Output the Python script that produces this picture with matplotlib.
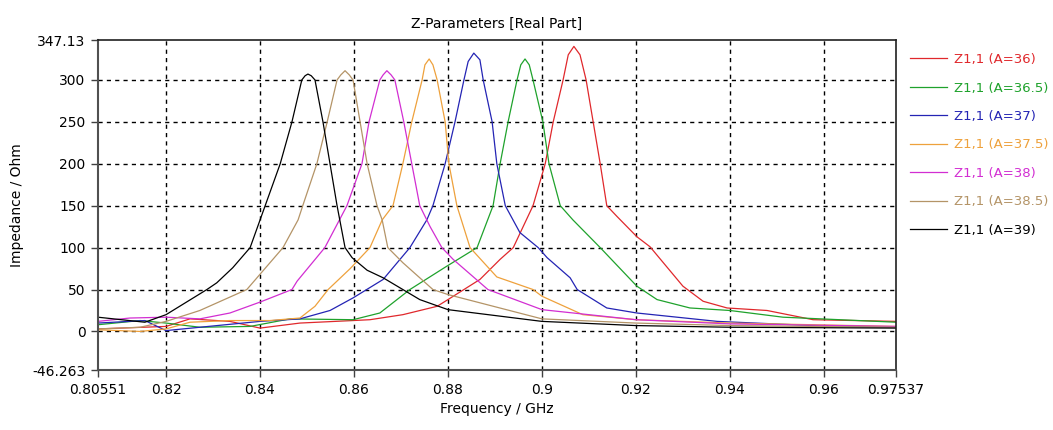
import matplotlib
matplotlib.use("Agg")
from matplotlib import pyplot as plt

# frequency (GHz) / real part of Z1,1 (Ohm)
f_a36 = [0.8055, 0.8200, 0.8251, 0.8336, 0.8400, 0.8485, 0.8598, 0.8634, 0.8704, 0.8777, 0.8800,
         0.8868, 0.8911, 0.8939, 0.8981, 0.9007, 0.9024, 0.9045, 0.9056, 0.9068, 0.9081, 0.9094,
         0.9109, 0.9124, 0.9138, 0.9160, 0.9202, 0.9230, 0.9300, 0.9343, 0.9394, 0.9479, 0.9577,
         0.9754]
z_a36 = [3, 6, 15, 12, 4, 10, 13, 14, 20, 30, 38,
         62, 86, 100, 150, 200, 250, 300, 330, 340, 330, 300,
         250, 200, 150, 137, 113, 101, 54, 36, 28, 25, 14,
         12]

f_a36_5 = [0.8055, 0.8145, 0.8200, 0.8272, 0.8379, 0.8464, 0.8598, 0.8655, 0.8719, 0.8798, 0.8862,
           0.8896, 0.8911, 0.8928, 0.8947, 0.8955, 0.8964, 0.8973, 0.8981, 0.9002, 0.9015, 0.9039,
           0.9066, 0.9124, 0.9202, 0.9245, 0.9315, 0.9400, 0.9513, 0.9754]
z_a36_5 = [8, 13, 10, 5, 6, 15, 14, 22, 50, 78, 100,
           150, 200, 250, 300, 318, 325, 318, 300, 250, 200, 150,
           133, 100, 54, 38, 28, 25, 17, 11]

f_a37 = [0.8055, 0.8155, 0.8200, 0.8272, 0.8400, 0.8485, 0.8549, 0.8598, 0.8662, 0.8719, 0.8755,
         0.8768, 0.8794, 0.8815, 0.8834, 0.8843, 0.8855, 0.8868, 0.8875, 0.8894, 0.8904, 0.8922,
         0.8953, 0.8992, 0.9011, 0.9060, 0.9075, 0.9138, 0.9202, 0.9373, 0.9577, 0.9754]
z_a37 = [10, 13, 1, 5, 12, 15, 25, 40, 62, 100, 133,
         150, 200, 250, 300, 322, 332, 324, 300, 250, 200, 150,
         118, 100, 88, 64, 50, 28, 22, 12, 7, 5]

f_a37_5 = [0.8055, 0.8145, 0.8200, 0.8251, 0.8336, 0.8421, 0.8485, 0.8517, 0.8545, 0.8592, 0.8634,
           0.8660, 0.8683, 0.8704, 0.8723, 0.8745, 0.8751, 0.8760, 0.8768, 0.8777, 0.8794, 0.8802,
           0.8819, 0.8847, 0.8904, 0.8981, 0.9000, 0.9087, 0.9200, 0.9400, 0.9754]
z_a37_5 = [2, 0, 3, 11, 13, 13, 16, 30, 50, 75, 100,
           133, 150, 200, 250, 300, 318, 325, 318, 300, 250, 200,
           150, 100, 65, 50, 42, 20, 14, 10, 6]

f_a38 = [0.8055, 0.8123, 0.8200, 0.8272, 0.8336, 0.8400, 0.8468, 0.8479, 0.8538, 0.8585, 0.8617,
         0.8632, 0.8655, 0.8662, 0.8670, 0.8679, 0.8687, 0.8706, 0.8723, 0.8740, 0.8762, 0.8787,
         0.8811, 0.8885, 0.9000, 0.9200, 0.9400, 0.9754]
z_a38 = [12, 16, 17, 15, 22, 35, 50, 60, 100, 150, 200,
         250, 300, 306, 311, 306, 300, 250, 200, 150, 125, 100,
         86, 50, 26, 14, 9, 6]

f_a38_5 = [0.8055, 0.8145, 0.8200, 0.8272, 0.8372, 0.8449, 0.8481, 0.8491, 0.8521, 0.8543, 0.8564,
           0.8572, 0.8581, 0.8590, 0.8598, 0.8613, 0.8628, 0.8649, 0.8660, 0.8672, 0.8704, 0.8768,
           0.8800, 0.9000, 0.9200, 0.9400, 0.9754]
z_a38_5 = [3, 5, 12, 25, 50, 100, 133, 150, 200, 250, 300,
           306, 311, 306, 300, 250, 200, 150, 133, 100, 82, 50,
           44, 15, 10, 7, 5]

f_a39 = [0.8055, 0.8155, 0.8200, 0.8287, 0.8308, 0.8342, 0.8379, 0.8411, 0.8443, 0.8468, 0.8489,
         0.8496, 0.8502, 0.8509, 0.8517, 0.8534, 0.8549, 0.8564, 0.8581, 0.8596, 0.8613, 0.8628,
         0.8662, 0.8698, 0.8740, 0.8800, 0.9000, 0.9200, 0.9400, 0.9754]
z_a39 = [17, 11, 20, 50, 58, 76, 100, 150, 200, 250, 300,
         305, 307, 305, 300, 250, 200, 150, 100, 88, 80, 73,
         64, 52, 38, 26, 12, 7, 5, 4]

series = [
    (f_a36, z_a36, "Z1,1 (A=36)", "#e0282c"),
    (f_a36_5, z_a36_5, "Z1,1 (A=36.5)", "#1fa22c"),
    (f_a37, z_a37, "Z1,1 (A=37)", "#2424b4"),
    (f_a37_5, z_a37_5, "Z1,1 (A=37.5)", "#eea13c"),
    (f_a38, z_a38, "Z1,1 (A=38)", "#d22ed2"),
    (f_a38_5, z_a38_5, "Z1,1 (A=38.5)", "#b49467"),
    (f_a39, z_a39, "Z1,1 (A=39)", "#000000"),
]

x_ticks = [0.80551, 0.82, 0.84, 0.86, 0.88, 0.9, 0.92, 0.94, 0.96, 0.97537]
x_labels = ["0.80551", "0.82", "0.84", "0.86", "0.88", "0.9", "0.92", "0.94", "0.96", "0.97537"]
y_ticks = [-46.263, 0, 50, 100, 150, 200, 250, 300, 347.13]
y_labels = ["-46.263", "0", "50", "100", "150", "200", "250", "300", "347.13"]

plt.rcParams['font.family'] = ['DejaVu Sans']
fig = plt.figure(figsize=(10.53, 4.30), dpi=100)
ax = fig.add_axes([0.093, 0.139, 0.758, 0.767])

for f, z, lab, col in series:
    ax.plot(f, z, color=col, lw=0.9, label=lab)

ax.set_xlim(x_ticks[0], x_ticks[-1])
ax.set_ylim(y_ticks[0], y_ticks[-1])
ax.set_xticks(x_ticks)
ax.set_xticklabels(x_labels)
ax.set_yticks(y_ticks)
ax.set_yticklabels(y_labels)
ax.tick_params(labelsize=10, length=5, width=1, color='#404040', pad=4)

# dashed grid on the inner ticks only
for xv in x_ticks[1:-1]:
    ax.axvline(xv, color='black', lw=1, ls=(0, (3, 3)), zorder=0)
for yv in y_ticks[1:-1]:
    ax.axhline(yv, color='black', lw=1, ls=(0, (3, 3)), zorder=0)

for side in ['left', 'bottom']:
    ax.spines[side].set_color('#505050')
    ax.spines[side].set_linewidth(1.5)
for side in ['top', 'right']:
    ax.spines[side].set_color('#202020')
    ax.spines[side].set_linewidth(1.2)

ax.set_title("Z-Parameters [Real Part]", fontsize=10, pad=9)
ax.set_xlabel("Frequency / GHz", fontsize=10, labelpad=4)
ax.set_ylabel("Impedance / Ohm", fontsize=10, labelpad=6)

fig.legend(loc='upper left', bbox_to_anchor=(0.857, 0.895), frameon=False,
           fontsize=9.5, labelcolor='linecolor', handlelength=2.8,
           handletextpad=0.5, labelspacing=1.17, borderaxespad=0.2)

fig.savefig("out.png", dpi=100)
